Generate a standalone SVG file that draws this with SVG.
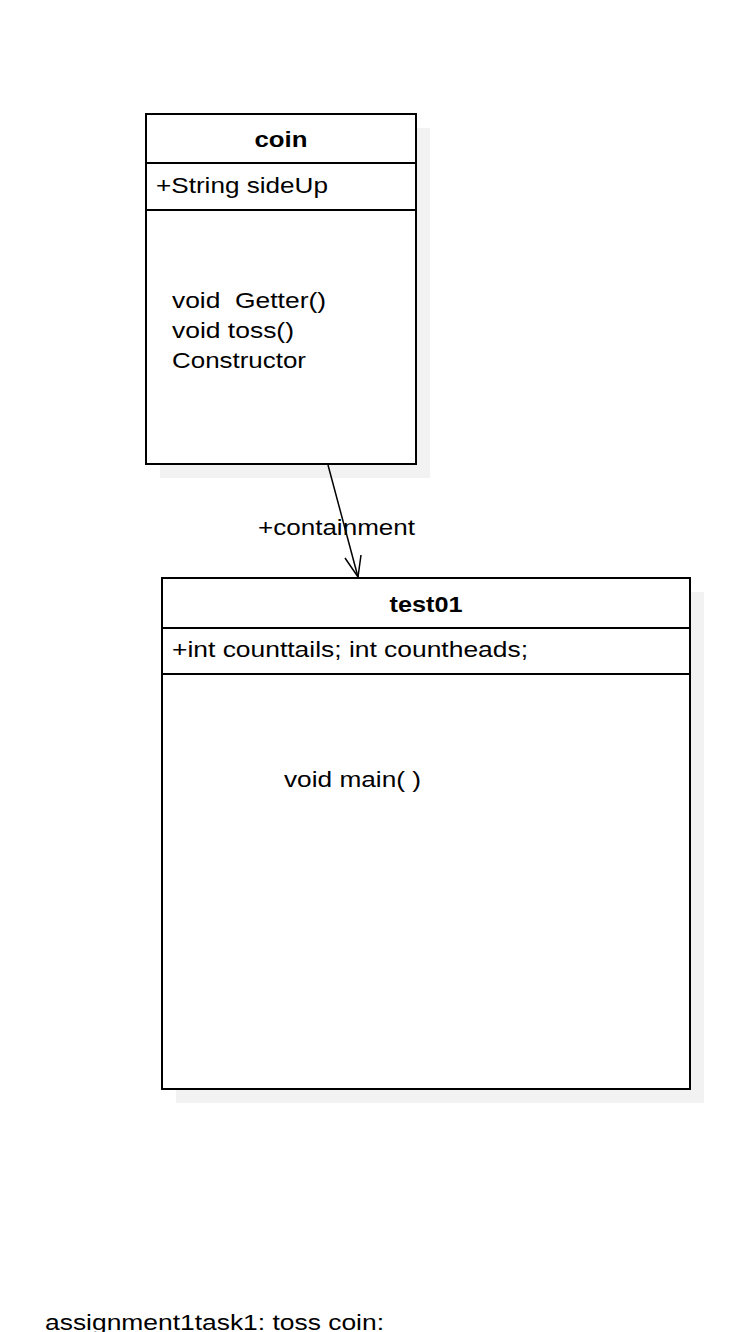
<svg xmlns="http://www.w3.org/2000/svg" width="756" height="1332" viewBox="0 0 756 1332">
<style>
.box{fill:#fff;stroke:#000;stroke-width:2}
.shadow{fill:#f2f2f2}
.div{stroke:#000;stroke-width:2}
text{font-family:"Liberation Sans",Arial,sans-serif;font-size:22px;fill:#000}
.title{font-weight:bold;text-anchor:middle}
</style>
<rect width="756" height="1332" fill="#fff"/>
<g id="coin">
<rect class="shadow" x="160" y="128" width="270" height="350"/>
<rect class="box" x="146" y="114" width="270" height="350"/>
<line class="div" x1="146" y1="163" x2="416" y2="163"/>
<line class="div" x1="146" y1="210" x2="416" y2="210"/>
<text class="title" x="281" y="147" textLength="53" lengthAdjust="spacingAndGlyphs">coin</text>
<text x="156" y="193" textLength="172" lengthAdjust="spacingAndGlyphs">+String sideUp</text>
<text x="172" y="308" xml:space="preserve" textLength="154" lengthAdjust="spacingAndGlyphs">void  Getter()</text>
<text x="172" y="338" textLength="122" lengthAdjust="spacingAndGlyphs">void toss()</text>
<text x="172" y="368" textLength="134" lengthAdjust="spacingAndGlyphs">Constructor</text>
</g>
<g id="test01">
<rect class="shadow" x="176" y="592" width="528" height="511"/>
<rect class="box" x="162" y="578" width="528" height="511"/>
<line class="div" x1="162" y1="628" x2="690" y2="628"/>
<line class="div" x1="162" y1="674" x2="690" y2="674"/>
<text class="title" x="426" y="612" textLength="73" lengthAdjust="spacingAndGlyphs">test01</text>
<text x="172" y="657" textLength="356" lengthAdjust="spacingAndGlyphs">+int counttails; int countheads;</text>
<text x="284" y="787" textLength="137" lengthAdjust="spacingAndGlyphs">void main( )</text>
</g>
<g id="connectors">
<line x1="328" y1="465" x2="358" y2="577" stroke="#000" stroke-width="1.5"/>
<polyline points="345,558 358,577 361,555" fill="none" stroke="#000" stroke-width="1.5"/>
<text x="258" y="535" textLength="157" lengthAdjust="spacingAndGlyphs">+containment</text>
</g>
<text x="45" y="1330" textLength="339" lengthAdjust="spacingAndGlyphs">assignment1task1: toss coin:</text>
</svg>
